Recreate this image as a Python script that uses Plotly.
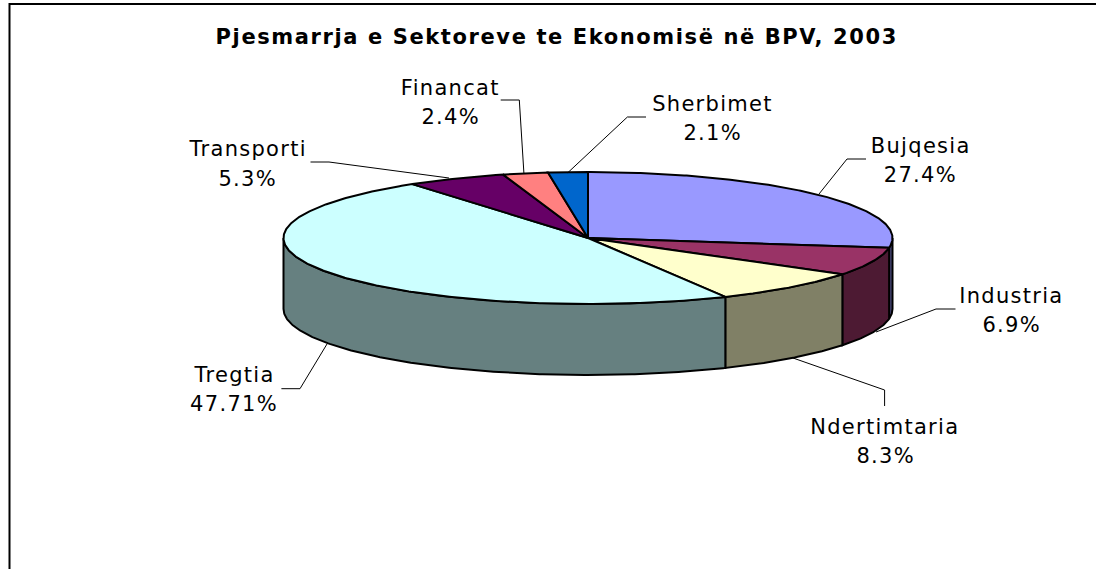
import numpy as np
import plotly.graph_objects as go

# ---- data ----
TITLE = "Pjesmarrja e Sektoreve te Ekonomisë në BPV, 2003"
categories = ["Bujqesia", "Industria", "Ndertimtaria", "Tregtia", "Transporti", "Financat", "Sherbimet"]
values = [27.4, 6.9, 8.3, 47.71, 5.3, 2.4, 2.1]

# ---- style ----
top_colors = ["#9999FF", "#993366", "#FFFFCC", "#CCFFFF", "#660066", "#FF8080", "#0066CC"]
side_colors = ["#4D4D80", "#4D1A33", "#808066", "#668080", "#330033", "#804040", "#003366"]

W, H = 1096, 569
CX, CY, RX, RY, DEPTH = 588.0, 238.0, 304.5, 66.0, 71.0

# label centres (px): x, y of name line, y of value line
label_pos = {
    "Bujqesia": (920, 146, 175),
    "Industria": (1011, 296, 325),
    "Ndertimtaria": (885, 427, 456),
    "Tregtia": (234, 375, 404),
    "Transporti": (247, 149, 179),
    "Financat": (450, 88, 117),
    "Sherbimet": (712, 104, 133),
}
# leader lines (px)
leaders = {
    "Bujqesia": ([866, 847, 819], [159, 159, 194]),
    "Industria": ([955.5, 936, 876], [309, 309, 332]),
    "Ndertimtaria": ([884.6, 884.6, 793], [406, 390, 358]),
    "Tregtia": ([281.4, 300, 327], [388.7, 388.7, 344]),
    "Transporti": ([310.5, 329, 449], [162, 162, 178]),
    "Financat": ([500.7, 519.3, 523.9], [100, 100, 173]),
    "Sherbimet": ([646, 627.4, 567.8], [117, 117, 172.7]),
}


def rim(a0, a1, dy=0.0):
    """Elliptical arc, angles in degrees clockwise from 12 o'clock."""
    n = max(2, int(abs(a1 - a0) * 2) + 2)
    t = np.radians(np.linspace(a0, a1, n))
    return CX + RX * np.sin(t), CY - RY * np.cos(t) + dy


fig = go.Figure()
edges = np.concatenate([[0.0], np.cumsum(values)]) / np.sum(values) * 360.0
OUT = dict(color="#000000", width=2)


def poly(x, y, color):
    fig.add_trace(go.Scatter(x=list(x), y=list(y), mode="lines", fill="toself",
                             fillcolor=color, line=OUT, hoverinfo="skip", showlegend=False))


# outer walls, back to front (only the part in the front half is visible)
for i in range(len(values)):
    a0, a1 = max(edges[i], 90.0), min(edges[i + 1], 270.0)
    if a1 <= a0:
        continue
    xt, yt = rim(a0, a1)
    xb, yb = rim(a1, a0, DEPTH)
    poly(np.r_[xt, xb, xt[0]], np.r_[yt, yb, yt[0]], side_colors[i])

# top faces
for i in range(len(values)):
    xt, yt = rim(edges[i], edges[i + 1])
    poly(np.r_[CX, xt, CX], np.r_[CY, yt, CY], top_colors[i])

# leader lines
for name in categories:
    lx, ly = leaders[name]
    fig.add_trace(go.Scatter(x=lx, y=ly, mode="lines", line=dict(color="#000000", width=1),
                             hoverinfo="skip", showlegend=False))

# frame: top and left edges only are visible
fig.add_trace(go.Scatter(x=[W, 9.5, 9.5], y=[4, 4, H], mode="lines",
                         line=dict(color="#000000", width=2),
                         hoverinfo="skip", showlegend=False))

FONT = "DejaVu Sans"
ann = [dict(x=556, y=37, text=f"<b>{TITLE}</b>", showarrow=False, xref="x", yref="y",
            font=dict(family=FONT, size=21, color="#000000"))]
for name, v in zip(categories, values):
    px, y1, y2 = label_pos[name]
    for txt, yy in ((name, y1), (f"{v}%", y2)):
        ann.append(dict(x=px, y=yy, text=txt, showarrow=False, xref="x", yref="y",
                        font=dict(family=FONT, size=21, color="#000000")))

fig.update_layout(
    width=W, height=H, autosize=False,
    margin=dict(l=0, r=0, t=0, b=0),
    paper_bgcolor="#FFFFFF", plot_bgcolor="#FFFFFF",
    xaxis=dict(range=[0, W], visible=False, fixedrange=True),
    yaxis=dict(range=[H, 0], visible=False, fixedrange=True),
    annotations=ann,
    showlegend=False,
)
POST = """
document.body.style.margin='0';
document.documentElement.style.overflow='hidden';
document.querySelectorAll('.annotation-text').forEach(function(t,i){
  t.style.letterSpacing = (i===0) ? '1.6px' : '1.3px';
});
"""
fig.write_html("out.html", config={"displayModeBar": False}, post_script=POST)
